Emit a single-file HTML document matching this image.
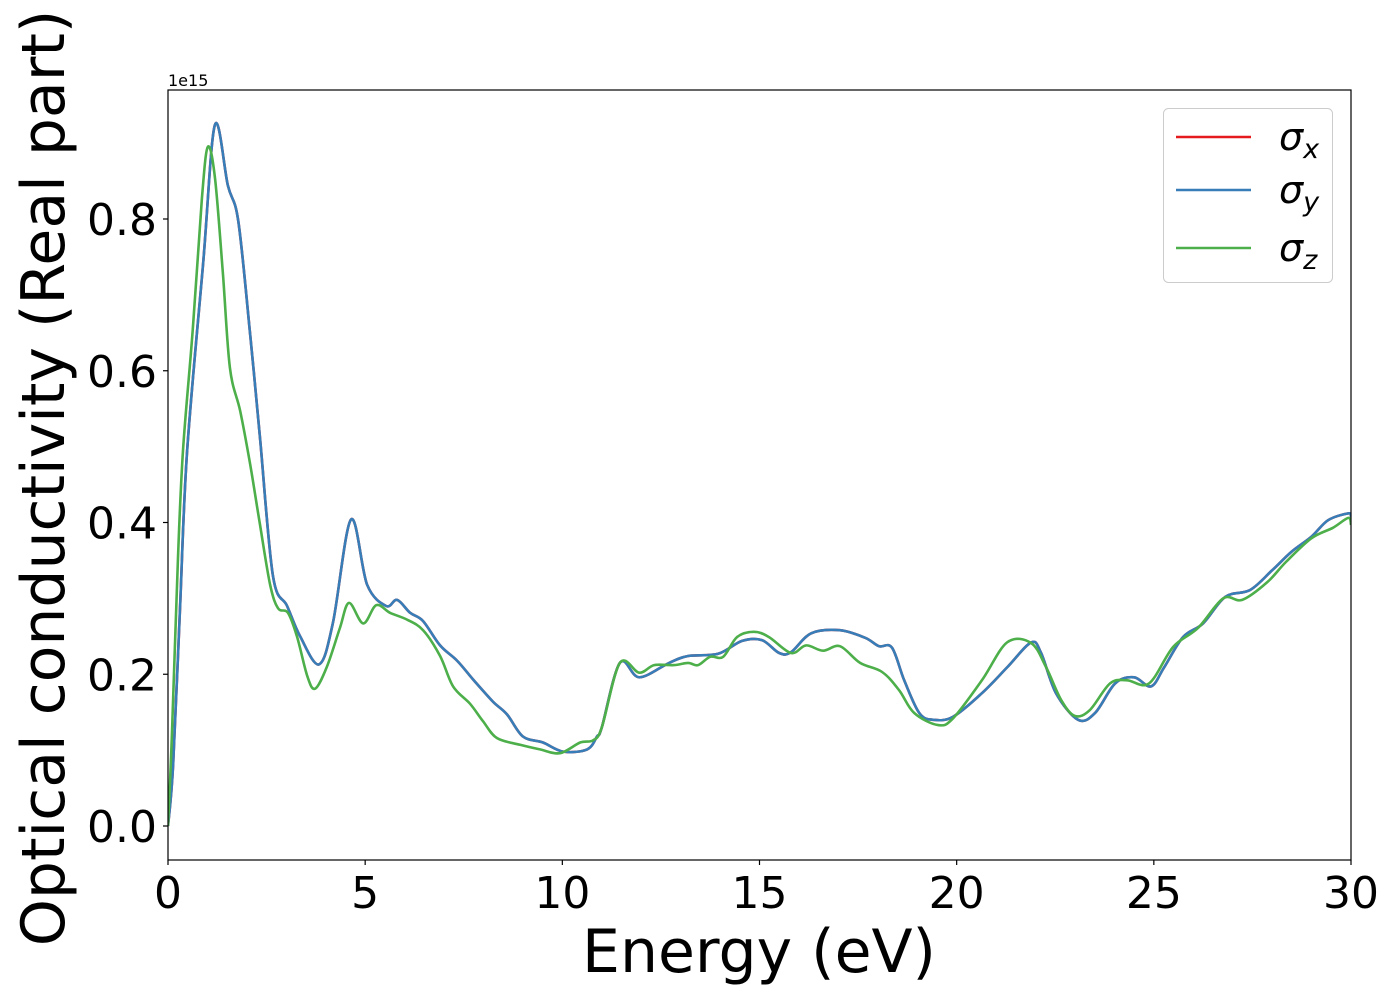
<!DOCTYPE html>
<html><head><meta charset="utf-8"><style>
html,body{margin:0;padding:0;background:#fff;}
svg{display:block;font-family:"DejaVu Sans","Liberation Sans",sans-serif;}
</style></head><body>
<svg id="chart" width="1400" height="1000" viewBox="0 0 1400 1000" xmlns="http://www.w3.org/2000/svg">
<rect x="0" y="0" width="1400" height="1000" fill="#fff"/>
<g id="plot"></g>
<g id="axes"></g>
<text x="168" y="86" font-size="16">1e15</text>
<text x="759" y="972" font-size="60" text-anchor="middle">Energy (eV)</text>
<text transform="translate(64,478) rotate(-90)" font-size="60" text-anchor="middle">Optical conductivity (Real part)</text>
<g>
<rect x="1163.5" y="108.5" width="169" height="174" rx="5" fill="#fff" stroke="#ccc" stroke-width="1"/>
<g>
<line x1="1176" y1="137" x2="1251" y2="137" stroke="#e41a1c" stroke-width="2.6"/>
<text x="1279" y="150" font-size="38" font-style="italic">σ<tspan font-size="27" dy="8">x</tspan></text></g>
<g>
<line x1="1176" y1="190" x2="1251" y2="190" stroke="#377eb8" stroke-width="2.6"/>
<text x="1279" y="203" font-size="38" font-style="italic">σ<tspan font-size="27" dy="8">y</tspan></text></g>
<g>
<line x1="1176" y1="248" x2="1251" y2="248" stroke="#4daf4a" stroke-width="2.6"/>
<text x="1279" y="261" font-size="38" font-style="italic">σ<tspan font-size="27" dy="8">z</tspan></text></g>
</g>
</svg>
<script>
const xTicks = [0, 5, 10, 15, 20, 25, 30];
const yTicks = [0.0, 0.2, 0.4, 0.6, 0.8];
const yTickLabels = ["0.0", "0.2", "0.4", "0.6", "0.8"];
const energyXY = [0,0.13,0.3,0.48,0.89,1.19,1.52,1.78,2.08,2.33,2.66,3.02,3.35,3.83,4.18,4.64,5.05,5.53,5.81,6.14,6.47,6.9,7.33,7.74,8.24,8.6,9.0,9.51,10.02,10.63,10.88,11.0,11.46,11.95,12.71,13.19,13.95,14.56,15.06,15.5,15.8,16.31,17.04,17.68,18.03,18.36,18.67,19.05,19.4,19.91,20.64,21.28,21.89,22.14,22.52,23.08,23.51,24.02,24.5,24.93,25.26,25.74,26.25,26.81,27.44,28.0,28.48,28.99,29.42,29.93,30.0];
const sigmaX = [0,0.08,0.28,0.49,0.741,0.924,0.844,0.798,0.65,0.513,0.33,0.29,0.25,0.213,0.267,0.404,0.318,0.29,0.298,0.281,0.27,0.238,0.218,0.193,0.164,0.147,0.118,0.11,0.098,0.101,0.118,0.13,0.215,0.196,0.215,0.224,0.227,0.244,0.245,0.228,0.229,0.254,0.258,0.248,0.237,0.235,0.192,0.149,0.14,0.144,0.175,0.209,0.242,0.228,0.175,0.14,0.149,0.188,0.196,0.184,0.209,0.249,0.267,0.302,0.311,0.337,0.361,0.381,0.403,0.412,0.408];
const sigmaY = [0,0.08,0.28,0.49,0.741,0.924,0.844,0.798,0.65,0.513,0.33,0.29,0.25,0.213,0.267,0.404,0.318,0.29,0.298,0.281,0.27,0.238,0.218,0.193,0.164,0.147,0.118,0.11,0.098,0.101,0.118,0.13,0.215,0.196,0.215,0.224,0.227,0.244,0.245,0.228,0.229,0.254,0.258,0.248,0.237,0.235,0.192,0.149,0.14,0.144,0.175,0.209,0.242,0.228,0.175,0.14,0.149,0.188,0.196,0.184,0.209,0.249,0.267,0.302,0.311,0.337,0.361,0.381,0.403,0.412,0.408];
const energyZ = [0,0.1,0.25,0.38,0.63,0.86,1.01,1.19,1.39,1.57,1.83,2.08,2.33,2.59,2.79,3.04,3.27,3.53,3.73,4.03,4.36,4.59,4.95,5.28,5.63,6.06,6.47,6.9,7.23,7.66,7.99,8.34,8.93,9.43,9.94,10.45,10.78,11.0,11.46,11.95,12.33,12.83,13.19,13.44,13.75,14.08,14.43,14.86,15.24,15.8,16.18,16.61,17.04,17.55,18.11,18.54,18.92,19.53,19.91,20.64,21.28,21.89,22.27,22.65,23.0,23.38,23.89,24.32,24.88,25.49,26.12,26.76,27.24,27.87,28.35,28.99,29.54,29.93,30.0];
const sigmaZ = [0,0.12,0.35,0.495,0.655,0.827,0.895,0.855,0.73,0.604,0.547,0.478,0.398,0.318,0.287,0.281,0.25,0.198,0.181,0.21,0.261,0.294,0.267,0.291,0.281,0.272,0.258,0.224,0.184,0.161,0.138,0.116,0.107,0.101,0.096,0.11,0.113,0.13,0.215,0.202,0.212,0.212,0.215,0.212,0.223,0.223,0.249,0.256,0.249,0.228,0.238,0.231,0.237,0.215,0.203,0.179,0.149,0.133,0.142,0.192,0.242,0.241,0.209,0.166,0.145,0.153,0.188,0.192,0.188,0.236,0.261,0.3,0.298,0.321,0.348,0.379,0.393,0.406,0.397];

const NS = "http://www.w3.org/2000/svg";
const L = 168, R = 1351, T = 90, B = 860;
const xMin = 0, xMax = 30, yMin = -0.045, yMax = 0.97;
function xs(v){ return L + (v - xMin) / (xMax - xMin) * (R - L); }
function ys(v){ return 826 - v * 758.75; }

function smoothPath(xa, ya){
  const p = xa.map((x,i)=>[xs(x), ys(ya[i])]);
  let d = "M" + p[0][0].toFixed(1) + "," + p[0][1].toFixed(1);
  for (let i = 0; i < p.length - 1; i++){
    const p0 = p[Math.max(0,i-1)], p1 = p[i], p2 = p[i+1], p3 = p[Math.min(p.length-1,i+2)];
    const c1x = p1[0] + (p2[0]-p0[0])/6, c1y = p1[1] + (p2[1]-p0[1])/6;
    const c2x = p2[0] - (p3[0]-p1[0])/6, c2y = p2[1] - (p3[1]-p1[1])/6;
    d += " C" + c1x.toFixed(1)+","+c1y.toFixed(1)+" "+c2x.toFixed(1)+","+c2y.toFixed(1)+" "+p2[0].toFixed(1)+","+p2[1].toFixed(1);
  }
  return d;
}

const plot = document.getElementById("plot");
const defs = document.createElementNS(NS, "defs");
defs.innerHTML = '<clipPath id="clip"><rect x="168" y="90" width="1183" height="770"/></clipPath>';
plot.appendChild(defs);
const g = document.createElementNS(NS, "g");
g.setAttribute("clip-path", "url(#clip)");
plot.appendChild(g);

function addLine(xa, ya, color, name){
  const path = document.createElementNS(NS, "path");
  path.setAttribute("d", smoothPath(xa, ya));
  path.setAttribute("fill", "none");
  path.setAttribute("stroke", color);
  path.setAttribute("stroke-width", "2.6");
  path.setAttribute("stroke-linejoin", "round");
  
  
  g.appendChild(path);
}
addLine(energyXY, sigmaX, "#e41a1c", "series-sigma-x");
addLine(energyXY, sigmaY, "#377eb8", "series-sigma-y");
addLine(energyZ, sigmaZ, "#4daf4a", "series-sigma-z");

const axes = document.getElementById("axes");
const frame = document.createElementNS(NS, "rect");
frame.setAttribute("x", L); frame.setAttribute("y", T);
frame.setAttribute("width", R - L); frame.setAttribute("height", B - T);
frame.setAttribute("fill", "none"); frame.setAttribute("stroke", "#000"); frame.setAttribute("stroke-width", "1.2");


axes.appendChild(frame);

xTicks.forEach(v => {
  const x = xs(v);
  const t = document.createElementNS(NS, "line");
  t.setAttribute("x1", x); t.setAttribute("x2", x); t.setAttribute("y1", B); t.setAttribute("y2", B + 5);
  t.setAttribute("stroke", "#000"); t.setAttribute("stroke-width", "1.2");
  
  
  axes.appendChild(t);
  const lab = document.createElementNS(NS, "text");
  lab.setAttribute("x", x); lab.setAttribute("y", 908);
  lab.setAttribute("font-size", "44"); lab.setAttribute("text-anchor", "middle");
  lab.textContent = String(v);
  
  
  axes.appendChild(lab);
});
yTicks.forEach((v, i) => {
  const y = ys(v);
  const t = document.createElementNS(NS, "line");
  t.setAttribute("x1", L - 5); t.setAttribute("x2", L); t.setAttribute("y1", y); t.setAttribute("y2", y);
  t.setAttribute("stroke", "#000"); t.setAttribute("stroke-width", "1.2");
  
  
  axes.appendChild(t);
  const lab = document.createElementNS(NS, "text");
  lab.setAttribute("x", 157); lab.setAttribute("y", y + 16);
  lab.setAttribute("font-size", "44"); lab.setAttribute("text-anchor", "end");
  lab.textContent = yTickLabels[i];
  
  
  axes.appendChild(lab);
});
</script>
</body></html>
